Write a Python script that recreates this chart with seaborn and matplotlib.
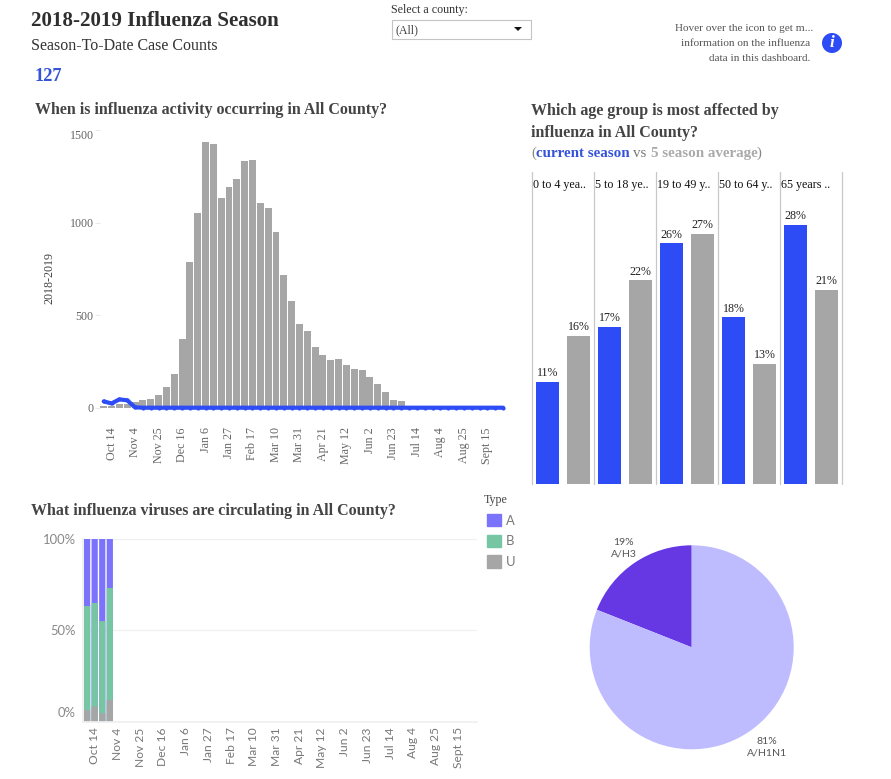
import pandas as pd
import matplotlib
matplotlib.use('Agg')
import matplotlib.pyplot as plt
import seaborn as sns
from matplotlib.patches import Rectangle, Circle, Polygon, Patch
from matplotlib.transforms import ScaledTranslation

# Weekly cases, 52 weeks starting Oct 7
week_index = list(range(52))
avg_cases = [9, 11, 22, 18, 29, 41, 49, 68, 112, 182, 371, 787, 1052, 1436, 1424,
             1132, 1192, 1235, 1332, 1337, 1105, 1078, 949, 716, 576, 452, 414,
             328, 284, 257, 263, 230, 209, 203, 166, 128, 85, 41, 36,
             0, 0, 0, 0, 0, 0, 0, 0, 0, 0, 0, 0, 0]
current_cases = [34, 23, 45, 40, 2] + [0] * 47
week_ticks = ['Oct 14', 'Nov 4', 'Nov 25', 'Dec 16', 'Jan 6', 'Jan 27', 'Feb 17',
              'Mar 10', 'Mar 31', 'Apr 21', 'May 12', 'Jun 2', 'Jun 23', 'Jul 14',
              'Aug 4', 'Aug 25', 'Sept 15']
case_ticks = [0, 500, 1000, 1500]

# Age groups
age_groups = ['0 to 4 yea..', '5 to 18 ye..', '19 to 49 y..', '50 to 64 y..', '65 years ..']
age_current = [11, 17, 26, 18, 28]
age_average = [16, 22, 27, 13, 21]

# Virus type share per week
type_weeks = [0, 1, 2, 3]
type_a = [36.7, 35.0, 44.9, 26.8]
type_b = [56.9, 56.8, 50.4, 61.3]
type_u = [6.4, 8.2, 4.7, 11.9]
share_ticks = [0, 50, 100]

# Subtypes
subtype_names = ['A/H3', 'A/H1N1']
subtype_share = [19, 81]

W, H = 891, 779
SERIF = 'Liberation Serif'
BLUE = '#2d4cf6'
GRAY = '#a6a6a6'
COL_A, COL_B, COL_U = '#7b73fb', '#76c6a4', '#a6a6a6'

sns.set_theme(style='white')
plt.rcParams['font.family'] = [SERIF, 'DejaVu Sans']


def fs(px):
    return px * 0.72


def px_axes(x0, y0, x1, y1):
    return fig.add_axes([x0 / W, 1 - y1 / H, (x1 - x0) / W, (y1 - y0) / H])


def nudge(label, px):
    # move a tick label up by px pixels
    label.set_transform(label.get_transform() + ScaledTranslation(0, px / 100, fig.dpi_scale_trans))


fig = plt.figure(figsize=(W / 100, H / 100), dpi=100, facecolor='white')

# Overlay in pixel coordinates for the dashboard texts
bg = fig.add_axes([0, 0, 1, 1])
bg.set_xlim(0, W)
bg.set_ylim(H, 0)
bg.axis('off')


def txt(x, y, s, size, color='#333333', weight='normal', ha='left', **kw):
    bg.text(x, y + 1, s, fontsize=fs(size), color=color, fontweight=weight, ha=ha, va='center', **kw)


txt(31, 20, '2018-2019 Influenza Season', 21, '#2f2f2f', 'bold')
txt(31, 45, 'Season-To-Date Case Counts', 16, '#333333')
txt(35, 75, '127', 18.5, '#3553d8', 'bold')
txt(35, 109, 'When is influenza activity occurring in All County?', 16, '#444444', 'bold')
txt(531, 110, 'Which age group is most affected by', 16, '#444444', 'bold')
txt(531, 132, 'influenza in All County?', 16, '#444444', 'bold')
txt(531, 152, '(', 15, '#888888')
txt(536.5, 152, 'current season', 15, '#3553d8', 'bold')
txt(633, 152, 'vs', 15, '#777777')
txt(651, 152, '5 season average', 15, '#aaaaaa', 'bold')
txt(757, 152, ')', 15, '#888888')
txt(31, 510, 'What influenza viruses are circulating in All County?', 16, '#444444', 'bold')

# County filter
txt(391, 9, 'Select a county:', 12, '#333333')
bg.add_patch(Rectangle((392, 20), 139, 19, fc='white', ec='#c4c4c4', lw=0.8))
txt(396, 29, '(All)', 12, '#444444')
bg.add_patch(Polygon([(514, 27), (522, 27), (518, 31)], fc='#111111', ec='none'))

# Info note
txt(813, 27, 'Hover over the icon to get m...', 11.2, '#555555', ha='right')
txt(810, 42.5, 'information on the influenza', 11.2, '#555555', ha='right')
txt(810, 57, 'data in this dashboard.', 11.2, '#555555', ha='right')
bg.add_patch(Circle((832, 43), 10, fc=BLUE, ec='none'))
txt(832, 42, 'i', 17, 'white', 'bold', ha='center', style='italic')

# Graph 1: cases per week
ax = px_axes(99.8, 130, 507, 407.7)
weekly = pd.DataFrame({'week': week_index, 'avg': avg_cases, 'current': current_cases})
sns.barplot(data=weekly, x='week', y='avg', color=GRAY, saturation=1, width=0.89, lw=0, ax=ax)
sns.lineplot(data=weekly, x='week', y='current', color=BLUE, lw=3, marker='o', ms=3,
             mew=0, clip_on=False, ax=ax)
ax.set_xlim(-0.5, 51.5)
ax.set_ylim(0, 1500)
ax.set_xticks(week_index[1::3], week_ticks, rotation=90, fontsize=fs(12), color='#666666')
ax.set_yticks(case_ticks, case_ticks, fontsize=fs(12), color='#666666')
ax.tick_params(axis='x', length=0, pad=14)
ax.tick_params(axis='y', left=True, length=3.5, width=0.6, color='#e4e4e4', pad=1)
ax.get_yticklabels()[-1].set_va('top')
ax.set_xlabel('')
ax.set_ylabel('')
sns.despine(ax=ax, left=True, bottom=True)
txt(49, 277, '2018-2019', 12, '#444444', rotation=90, ha='center')

# Graph 2: age groups
ax2 = px_axes(532, 172, 842, 484)
ages = pd.DataFrame({'age': age_groups * 2,
                     'share': age_current + age_average,
                     'season': ['current'] * 5 + ['average'] * 5})
sns.barplot(data=ages, x='age', y='share', hue='season', palette=[BLUE, GRAY], saturation=1,
            width=1, gap=0.25, lw=0, legend=False, ax=ax2)
ax2.set_xlim(-0.5, 4.5)
ax2.set_ylim(0, 33.7)
ax2.set_xticks([])
ax2.set_yticks([])
ax2.set_xlabel('')
ax2.set_ylabel('')
sns.despine(ax=ax2, left=True, bottom=True)
for i in range(6):
    ax2.axvline(i - 0.5, color='#c8c8c8', lw=0.9, clip_on=False)
for i, name in enumerate(age_groups):
    ax2.text(i - 0.49, 32.3, name, fontsize=fs(12), color='#111111', va='center')
for bars in ax2.containers:
    ax2.bar_label(bars, fmt='%d%%', padding=2, fontsize=fs(12), color='#222222')

# Graph 3: virus types
ax3 = px_axes(83.3, 539, 477.3, 721.7)
types = pd.DataFrame({'week': type_weeks, 'a': type_a, 'b': type_b, 'u': type_u})
types['ab_u'] = types['b'] + types['u']
types['total'] = types['ab_u'] + types['a']
for col, colour in [('total', COL_A), ('ab_u', COL_B), ('u', COL_U)]:
    sns.barplot(data=types, x='week', y=col, order=week_index, color=colour, saturation=1,
                width=0.82, lw=0, ax=ax3)
ax3.set_xlim(-0.5, 51.5)
ax3.set_ylim(0, 100)
ax3.set_xticks(week_index[1::3], week_ticks, rotation=90, fontsize=fs(12), color='#777777',
               family='Lato')
ax3.set_yticks(share_ticks, [f'{v}%' for v in share_ticks], fontsize=fs(13), color='#888888',
               family='Lato')
ax3.tick_params(axis='x', length=0, pad=4)
ax3.tick_params(axis='y', length=0, pad=5.5)
ax3.set_axisbelow(True)
ax3.grid(axis='y', color='#f0f0f0', lw=0.9)
ax3.set_xlabel('')
ax3.set_ylabel('')
for side in ['top', 'right']:
    ax3.spines[side].set_visible(False)
for side in ['left', 'bottom']:
    ax3.spines[side].set_color('#f0f0f0')
ax3.get_yticklabels()[0].set_va('bottom')
nudge(ax3.get_yticklabels()[0], 3)
for bar in ax3.patches:
    bar.set_snap(False)

# Legend for virus types
txt(484, 499, 'Type', 12, '#444444')
handles = [Patch(color=COL_A, label='A'), Patch(color=COL_B, label='B'), Patch(color=COL_U, label='U')]
leg = fig.legend(handles=handles, loc='upper left', bbox_to_anchor=(483 / W, 1 - 510 / H),
                 frameon=False, prop={'family': 'Lato', 'size': fs(13)}, handlelength=1.1, handleheight=1.1,
                 labelspacing=0.62, handletextpad=0.35, borderpad=0.3, borderaxespad=0)
for t in leg.get_texts():
    t.set_color('#777777')

# Graph 4: subtypes
ax4 = px_axes(589.7, 545.3, 793.7, 749.3)
ax4.pie(subtype_share, startangle=90, counterclock=True, colors=['#6538e3', '#bfbbff'],
        radius=1, wedgeprops={'clip_on': False, 'lw': 0})
ax4.set_xlim(-1, 1)
ax4.set_ylim(-1, 1)
txt(623.7, 541.5, f'{subtype_share[0]}%', 10.5, '#555555', ha='center', family='Lato')
txt(623.7, 553, subtype_names[0], 10.5, '#555555', ha='center', family='Lato')
txt(766.7, 741, f'{subtype_share[1]}%', 10.5, '#555555', ha='center', family='Lato')
txt(766.7, 752.5, subtype_names[1], 10.5, '#555555', ha='center', family='Lato')

plt.savefig('out.png', dpi=100)
